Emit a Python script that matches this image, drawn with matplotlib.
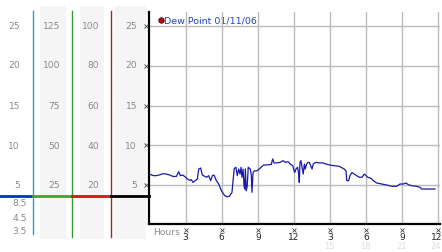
import matplotlib
matplotlib.use("Agg")
import matplotlib.pyplot as plt
from matplotlib.patches import Rectangle

# dew point readings (hour of day, deg)
hours = [0.0, 0.3, 0.57, 0.85, 1.12, 1.4, 1.68, 1.95, 2.23, 2.42, 2.56, 2.75, 2.92,
         3.14, 3.34, 3.47, 3.61, 3.8, 3.97, 4.09, 4.25, 4.39, 4.58, 4.75, 4.92, 5.08,
         5.22, 5.36, 5.55, 5.75, 5.91, 6.02, 6.24, 6.44, 6.63, 6.85, 6.94, 7.04, 7.18,
         7.29, 7.41, 7.52, 7.6, 7.68, 7.77, 7.85, 7.91, 7.96, 8.04, 8.12, 8.2, 8.37,
         8.46, 8.51, 8.6, 8.71, 8.93, 9.2, 9.48, 9.76, 10.12, 10.23, 10.34, 10.59,
         10.86, 11.09, 11.28, 11.5, 11.69, 11.89, 12.06, 12.17, 12.3, 12.39, 12.44,
         12.5, 12.58, 12.67, 12.77, 12.86, 12.94, 13.05, 13.16, 13.27, 13.39, 13.5,
         13.6, 13.83, 14.1, 14.38, 14.66, 14.93, 15.35, 15.76, 16.18, 16.32, 16.38,
         16.54, 16.65, 16.82, 17.0, 17.21, 17.42, 17.65, 17.84, 17.98, 18.12, 18.4,
         18.59, 18.87, 19.29, 19.7, 20.12, 20.53, 20.81, 21.08, 21.3, 21.5, 21.78,
         22.19, 22.47, 22.61, 23.02, 23.71]
dew = [6.4, 6.2, 6.2, 6.3, 6.45, 6.4, 6.28, 6.1, 6.1, 6.7, 6.2, 6.28, 6.1,
       5.8, 5.6, 5.7, 5.36, 5.57, 5.78, 7.03, 7.16, 6.28, 6.12, 6.0, 6.2, 5.57,
       6.2, 6.28, 5.57, 5.15, 4.52, 4.2, 3.7, 3.56, 3.6, 4.1, 5.57, 7.1, 7.25,
       6.2, 7.03, 6.4, 7.25, 6.0, 7.03, 4.94, 4.52, 7.03, 4.3, 4.94, 7.25, 7.03,
       6.2, 4.1, 6.6, 6.8, 6.8, 7.16, 7.54, 7.54, 7.62, 8.3, 7.8, 7.8,
       7.87, 8.08, 7.87, 7.95, 7.66, 7.45, 6.6, 7.03, 7.25, 6.4, 5.36,
       7.87, 8.08, 7.25, 6.4, 7.66, 7.03, 7.66, 7.87, 7.87, 7.45, 7.03,
       7.66, 7.87, 7.8, 7.8, 7.66, 7.54, 7.45, 7.37, 7.03, 6.8, 5.57,
       5.57, 6.2, 6.6, 6.4, 6.2, 6.0, 6.0, 6.4, 6.2, 6.0, 5.87,
       5.57, 5.28, 5.15, 5.03, 4.86, 4.86, 5.15, 5.15, 5.28, 5.06, 4.94,
       4.86, 4.73, 4.52, 4.52, 4.52]

x_ticks = [3, 6, 9, 12, 15, 18, 21, 24]
x_labels = ["3", "6", "9", "12", "3", "6", "9", "12"]
x_labels_24 = ["15", "18", "21", "24"]
y_ticks = [5, 10, 15, 20, 25]

# left-hand scales
scale1 = ["25", "20", "15", "10", "5"]
scale1_low = ["8.5", "4.5", "3.5"]
scale2 = ["125", "100", "75", "50", "25"]
scale3 = ["100", "80", "60", "40", "20"]
scale4 = ["25", "20", "15", "10", "5"]

W, H = 442, 253
fig = plt.figure(figsize=(W / 100, H / 100), dpi=100)
fig.patch.set_facecolor("white")

# overlay in pixel coords for the left side panel
bg = fig.add_axes([0, 0, 1, 1])
bg.set_xlim(0, W)
bg.set_ylim(H, 0)
bg.axis("off")

for x0, x1 in [(40, 66), (80, 104), (115, 146)]:
    bg.add_patch(Rectangle((x0, 7), x1 - x0, 233, color="#f5f5f5", lw=0))

label_y = [26, 65.5, 106.5, 146.5, 186]
gray = "#8a8a8a"
fs = 6.6
for col, right in [(scale1, 20), (scale2, 60), (scale3, 99), (scale4, 137)]:
    for lab, yy in zip(col, label_y):
        bg.text(right, yy, lab, ha="right", va="center", fontsize=fs, color=gray)
for lab, yy in zip(scale1_low, [204, 219, 232]):
    bg.text(27, yy, lab, ha="right", va="center", fontsize=fs, color=gray)

bg.plot([33, 33], [12, 235], color="#3399cc", lw=1)
bg.plot([72, 72], [12, 238], color="#339933", lw=1)
bg.plot([111, 111], [12, 238], color="#aa2222", lw=1)
bg.plot([0, 33], [197, 197], color="#0033cc", lw=2)
bg.plot([33, 72], [197, 197], color="#33aa33", lw=2)
bg.plot([72, 111], [197, 197], color="#dd1111", lw=2)
bg.plot([111, 149], [197, 197], color="black", lw=2)

# main chart
left, right, top, bottom = 149, 440, 13, 225
ax = fig.add_axes([left / W, (H - bottom) / H, (right - left) / W, (bottom - top) / H])
ax.set_facecolor("none")
ax.set_xlim((left - 149.5) / 12.04, (right - 149.5) / 12.04)
ax.set_ylim((226 - bottom) / 7.96, (226 - top) / 7.96)

for t in x_ticks:
    ax.axvline(t, color="#bbbbbb", lw=1, zorder=1)
for t in y_ticks:
    ax.axhline(t, color="#bbbbbb", lw=1, zorder=1)

ax.plot(hours, dew, color="#1a1aa6", lw=0.9, zorder=3)

for s in ["top", "right"]:
    ax.spines[s].set_visible(False)
ax.spines["left"].set_linewidth(1.6)
ax.spines["bottom"].set_linewidth(1.6)
ax.set_xticks(x_ticks)
ax.set_xticklabels([])
ax.set_yticks(y_ticks)
ax.set_yticklabels([])
ax.tick_params(length=0)

# small tick glyphs
ax.plot([-0.28] * len(y_ticks), y_ticks, ls="none", marker="x", ms=2.2, mew=0.6,
        color="#444444", clip_on=False, zorder=5)
tr = ax.get_xaxis_transform()
ax.plot(x_ticks, [-0.027] * len(x_ticks), ls="none", marker="x", ms=2.2, mew=0.6,
        color="#444444", clip_on=False, transform=tr)
for t, lab in zip(x_ticks, x_labels):
    xx = min(t, 23.82)
    ax.text(xx, -0.06, lab, transform=tr, ha="center", va="center", fontsize=6.5,
            color="#222222")
for t, lab in zip(x_ticks[4:], x_labels_24):
    ax.text(min(t - 0.05, 23.8), -0.1, lab, transform=tr, ha="center", va="center",
            fontsize=6, color="#dddddd")
bg.text(153, 232.5, "Hours", ha="left", va="center", fontsize=fs, color=gray)

# legend
bg.plot([160.7], [21], marker="o", ms=4, color="#aa1111", mec="#550000", mew=0.5)
bg.text(164.5, 21, "Dew Point 01/11/06", ha="left", va="center", fontsize=6.8,
        color="#2244bb")

fig.savefig("out.png", dpi=100)
